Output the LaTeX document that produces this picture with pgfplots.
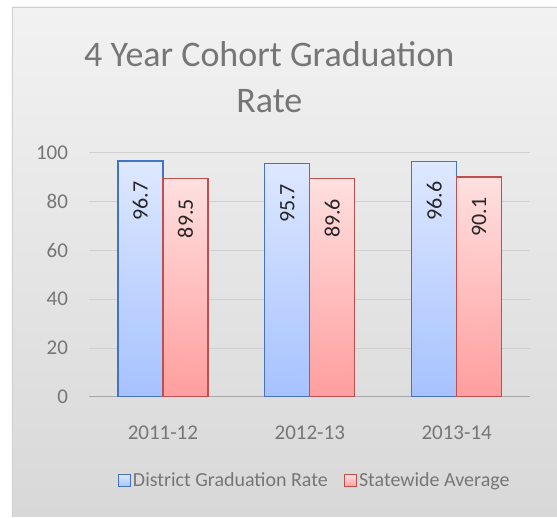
\documentclass[border=0pt]{standalone}
\usepackage{pgfplots}
\pgfplotsset{compat=1.18}
\usepackage{fontspec}
\setmainfont{Carlito}
\definecolor{txt}{RGB}{118,118,118}
\definecolor{bluetop}{RGB}{222,232,255}
\definecolor{bluebot}{RGB}{166,194,255}
\definecolor{blueedge}{RGB}{68,114,196}
\definecolor{redtop}{RGB}{255,224,224}
\definecolor{redbot}{RGB}{255,158,158}
\definecolor{rededge}{RGB}{192,80,77}
\definecolor{bgtop}{RGB}{242,242,242}
\definecolor{bgbot}{RGB}{216,216,216}
\definecolor{gridc}{RGB}{208,208,208}
\begin{document}
\begin{tikzpicture}[x=1pt,y=1pt]
\fill[white] (0,0) rectangle (557,517);
\shade[top color=bgtop, bottom color=bgbot] (12,0) rectangle (557,510);
\draw[gridc, line width=0.8pt] (12,0) -- (12,510) -- (557,510);
\node[text=txt, font=\fontsize{36}{46}\selectfont, align=center] at (269.5,440) {4 Year Cohort Graduation\\Rate};
\begin{axis}[
  at={(89.5pt,120pt)}, anchor=south west,
  scale only axis, width=441pt, height=244pt,
  xmin=-0.5, xmax=2.5, ymin=0, ymax=100,
  xtick={0,1,2}, xticklabels={2011-12,2012-13,2013-14},
  ytick={0,20,...,100},
  ymajorgrids, grid style={gridc, line width=0.8pt},
  axis x line*=bottom, axis y line*=left,
  x axis line style={draw=gridc!80!black, line width=0.8pt, -},
  y axis line style={draw=none},
  major tick length=0pt,
  tick label style={text=txt, font=\fontsize{21}{24}\selectfont},
  /pgf/number format/assume math mode=true,
  xticklabel style={yshift=-26pt},
  yticklabel style={xshift=-18pt},
  ybar, bar width=45pt,
  nodes near coords,
  nodes near coords style={rotate=90, anchor=east, inner sep=0pt, xshift=-20pt, text=black!85, font=\fontsize{22}{24}\selectfont, /pgf/number format/fixed, /pgf/number format/precision=1, /pgf/number format/fixed zerofill},
  legend style={at={(0.511,-0.344)}, anchor=center, draw=none, fill=none, legend columns=2, font=\fontsize{20}{24}\selectfont, text=txt, /tikz/every even column/.append style={column sep=14pt}},
  legend image code/.code={\draw[#1, line width=1.2pt] (0pt,-6pt) rectangle (12pt,6pt);},
  clip=false,
]
\addplot[bar shift=-22.5pt, draw=blueedge, line width=1.3pt, top color=bluetop, bottom color=bluebot] coordinates {(0,96.7) (1,95.7) (2,96.6)};
\addplot[bar shift=22.5pt, draw=rededge, line width=1.3pt, top color=redtop, bottom color=redbot] coordinates {(0,89.5) (1,89.6) (2,90.1)};
\legend{District Graduation Rate, Statewide Average}
\end{axis}
\end{tikzpicture}
\end{document}
